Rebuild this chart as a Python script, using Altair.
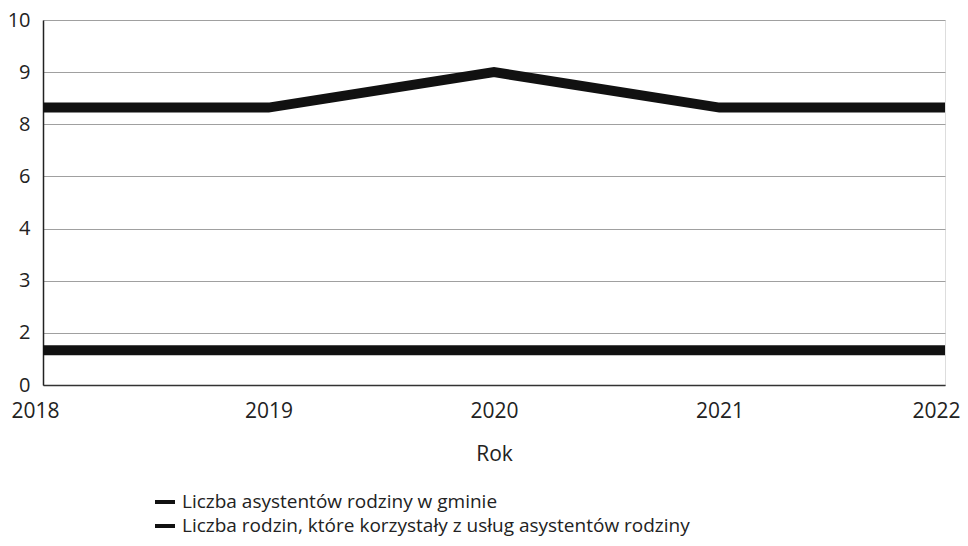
import altair as alt
import pandas as pd

years = [2018, 2019, 2020, 2021, 2022]
series_names = [
    "Liczba asystentów rodziny w gminie",
    "Liczba rodzin, które korzystały z usług asystentów rodziny",
]
assistants = [1.33, 1.33, 1.33, 1.33, 1.33]
families = [8.32, 8.32, 9.0, 8.32, 8.32]
y_ticks = [0, 2, 3, 4, 6, 8, 9, 10]

rows = []
for y, v in zip(years, assistants):
    rows.append({"Rok": y, "Wartość": v, "Seria": series_names[0]})
for y, v in zip(years, families):
    rows.append({"Rok": y, "Wartość": v, "Seria": series_names[1]})
df = pd.DataFrame(rows)

W, H = 902, 365
n = len(y_ticks) - 1
y_range = [H - i * H / n for i in range(len(y_ticks))]

chart = (
    alt.Chart(df)
    .mark_line(strokeWidth=10, strokeCap="butt", strokeJoin="miter")
    .encode(
        x=alt.X(
            "Rok:Q",
            scale=alt.Scale(domain=[2018, 2022], nice=False, zero=False),
            axis=alt.Axis(
                values=years,
                format="d",
                title="Rok",
                grid=False,
                ticks=False,
                labelFlush=False,
                labelOverlap=False,
                labelOffset={
                    "condition": [
                        {"test": "datum.value == 2018", "value": -8},
                        {"test": "datum.value == 2022", "value": -9},
                    ],
                    "value": 0,
                },
                labelFontSize=21,
                labelFont="Open Sans",
                labelColor="#222",
                labelPadding=15,
                titleFont="Open Sans",
                titleFontSize=21,
                titleFontWeight="normal",
                titleColor="#222",
                titlePadding=22,
                domainColor="#333",
                domainWidth=1.5,
            ),
        ),
        y=alt.Y(
            "Wartość:Q",
            scale=alt.Scale(domain=y_ticks, range=y_range, nice=False, zero=False),
            axis=alt.Axis(
                values=y_ticks,
                title=None,
                ticks=False,
                labelFontSize=20,
                labelFont="Open Sans",
                labelColor="#222",
                labelPadding=13,
                gridColor="#a0a0a0",
                gridWidth=1,
                domainColor="#222",
                domainWidth=1.5,
            ),
        ),
        color=alt.Color(
            "Seria:N",
            scale=alt.Scale(domain=series_names, range=["#111111", "#111111"]),
            legend=alt.Legend(
                title=None,
                orient="none",
                legendX=112,
                legendY=472,
                direction="vertical",
                labelFont="Open Sans",
                labelFontSize=19,
                labelColor="#222",
                labelLimit=800,
                symbolType="M-1,-0.2H1V0.2H-1Z",
                symbolSize=400,
                symbolFillColor="#111111",
                symbolStrokeWidth=0,
                rowPadding=4,
                labelOffset=7,
            ),
        ),
    )
    .properties(
        width=W,
        height=H,
        autosize=alt.AutoSizeParams(type="none"),
        padding={"left": 35, "top": 12, "right": 15, "bottom": 153},
    )
    .configure_view(stroke=None)
    .configure(background="white")
)

chart.save("out.html", embed_options={"renderer": "svg", "actions": False})
